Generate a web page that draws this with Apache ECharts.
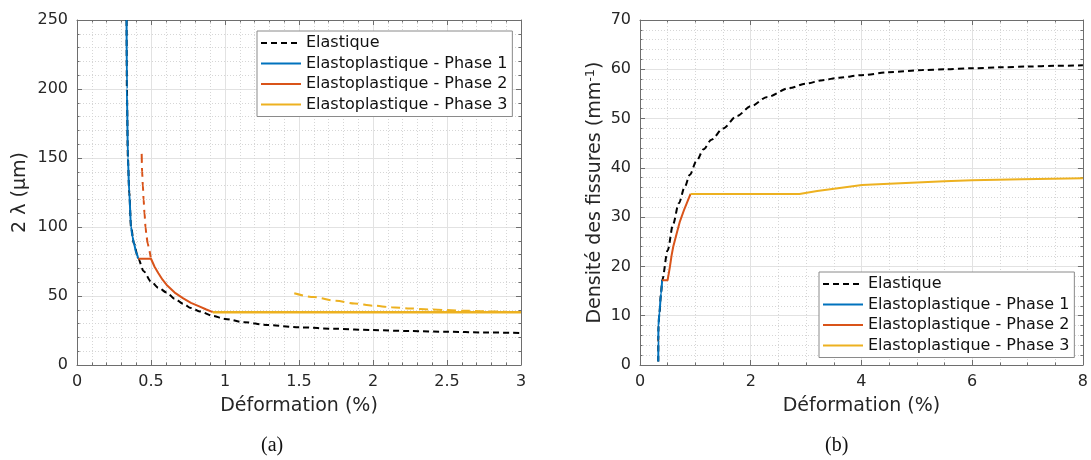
<!DOCTYPE html>
<html>
<head>
<meta charset="utf-8">
<script src="https://cdn.jsdelivr.net/npm/echarts@6/dist/echarts.min.js"></script>
<style>
html,body{margin:0;padding:0;background:#fff;}
#chart{width:1091px;height:460px;}
</style>
</head>
<body>
<div id="chart"></div>
<script>
// ---------- Data ----------
// Chart (a): 2λ (µm) vs Déformation (%)
const xTicksA = [0, 0.5, 1, 1.5, 2, 2.5, 3];
const yTicksA = [0, 50, 100, 150, 200, 250];
const elasticA = [[0.335,250],[0.337,200],[0.344,150],[0.353,125],[0.365,100],[0.385,88],[0.414,77],
  [0.45,68],[0.5,60.5],[0.55,56],[0.606,52.5],[0.66,48],[0.718,44.3],[0.77,41.3],[0.83,38.8],[0.917,35.6],
  [1.0,33.4],[1.13,31],[1.28,29],[1.5,27.3],[1.75,26.2],[2.0,25.3],[2.25,24.6],[2.5,24.1],[2.75,23.6],[3.0,23.2]];
const phase1A = [[0.335,250],[0.337,200],[0.344,150],[0.353,125],[0.365,100],[0.375,93],[0.385,88],[0.40,81.5],[0.414,77]];
const phase2A = [[0.414,77],[0.50,77],[0.525,71],[0.55,66.5],[0.578,61.8],[0.606,58],[0.66,52.5],[0.718,48.3],
  [0.77,45],[0.83,42.3],[0.87,40.4],[0.917,38.3]];
const phase2DashA = [[0.437,153],[0.44,140],[0.445,130],[0.45,120],[0.456,110],[0.463,100],[0.47,93],[0.478,88],[0.488,83],[0.498,78]];
const phase3A = [[0.917,38.3],[3.0,38.3]];
const phase3DashA = [[1.468,52],[1.6,49.2],[1.75,46.5],[1.875,44.6],[2.0,43],[2.125,41.9],[2.25,41],[2.375,40.3],[2.5,39.8],[2.625,39.3],[2.75,38.9],[2.9,38.5]];

// Chart (b): Densité des fissures (mm-1) vs Déformation (%)
const xTicksB = [0, 2, 4, 6, 8];
const yTicksB = [0, 10, 20, 30, 40, 50, 60, 70];
const elasticB = [[0.33,0.7],[0.331,5],[0.333,8],[0.35,10.5],[0.38,14.5],[0.40,17.2],[0.5,23.3],[0.6,28.7],
  [0.7,32.8],[0.81,36.2],[0.9,38.6],[1.02,41.4],[1.15,43.8],[1.29,45.7],[1.5,48],[1.75,50.5],[2.0,52.5],
  [2.3,54.4],[2.7,56.2],[3.0,57.1],[3.3,57.8],[3.6,58.3],[4.0,58.8],[4.5,59.4],[5.1,59.85],[5.5,60.0],
  [6.0,60.2],[6.5,60.4],[7.0,60.55],[7.5,60.7],[8.0,60.8]];
const phase1B = [[0.33,0.7],[0.331,5],[0.333,8],[0.35,10.5],[0.38,14.5],[0.40,17.2]];
const phase2B = [[0.40,17.2],[0.498,17.2],[0.52,18.6],[0.54,19.9],[0.57,22.2],[0.6,24],[0.66,26.6],[0.72,29.1],[0.8,31.6],[0.913,34.7]];
const phase3B = [[0.913,34.7],[2.88,34.7],[3.2,35.3],[3.54,35.8],[4.01,36.5],[4.5,36.8],[5.1,37.1],[5.5,37.3],[6.0,37.5],[6.9,37.7],[8.0,37.9]];

const legendNames = ['Elastique','Elastoplastique - Phase 1','Elastoplastique - Phase 2','Elastoplastique - Phase 3'];

// ---------- Styles ----------
const FONT = 'DejaVu Sans';
const TXT = '#262626';
const FRAME = '#6e6e6e';
const BLUE = '#0072BD', ORANGE = '#D95319', YELLOW = '#EDB120';

function mainX(gi, ticks, minorSplit, name) {
  return {
    type: 'value', gridIndex: gi, position: 'bottom',
    min: ticks[0], max: ticks[ticks.length-1], interval: ticks[1]-ticks[0],
    name: name, nameLocation: 'middle', nameGap: 32,
    nameTextStyle: {fontFamily: FONT, fontSize: 19, color: TXT},
    axisLine: {show: true, onZero: false, lineStyle: {color: FRAME, width: 1}},
    axisTick: {show: true, inside: true, length: 5, lineStyle: {color: FRAME}},
    minorTick: {show: true, splitNumber: minorSplit, length: 2.5, lineStyle: {color: FRAME}},
    axisLabel: {fontFamily: FONT, fontSize: 16, color: TXT, margin: 9},
    splitLine: {show: true, lineStyle: {color: '#e2e2e2', width: 1}},
    minorSplitLine: {show: true, lineStyle: {color: '#d6d6d6', width: 1, type: [1,2]}}
  };
}
function boxX(gi, ticks, minorSplit) {
  return {
    type: 'value', gridIndex: gi, position: 'top',
    min: ticks[0], max: ticks[ticks.length-1], interval: ticks[1]-ticks[0],
    axisLine: {show: true, onZero: false, lineStyle: {color: FRAME, width: 1}},
    axisTick: {show: true, inside: true, length: 5, lineStyle: {color: FRAME}},
    minorTick: {show: true, splitNumber: minorSplit, length: 2.5, lineStyle: {color: FRAME}},
    axisLabel: {show: false}, splitLine: {show: false}
  };
}
function mainY(gi, ticks, minorSplit, name, gap, rich) {
  return {
    type: 'value', gridIndex: gi, position: 'left',
    min: ticks[0], max: ticks[ticks.length-1], interval: ticks[1]-ticks[0],
    name: name, nameLocation: 'middle', nameGap: gap,
    nameTextStyle: Object.assign({fontFamily: FONT, fontSize: 19, color: TXT}, rich ? {rich: rich} : {}),
    axisLine: {show: true, onZero: false, lineStyle: {color: FRAME, width: 1}},
    axisTick: {show: true, inside: true, length: 5, lineStyle: {color: FRAME}},
    minorTick: {show: true, splitNumber: minorSplit, length: 2.5, lineStyle: {color: FRAME}},
    axisLabel: {fontFamily: FONT, fontSize: 16, color: TXT, margin: 9},
    splitLine: {show: true, lineStyle: {color: '#e2e2e2', width: 1}},
    minorSplitLine: {show: true, lineStyle: {color: '#d6d6d6', width: 1, type: [1,2]}}
  };
}
function boxY(gi, ticks, minorSplit) {
  return {
    type: 'value', gridIndex: gi, position: 'right',
    min: ticks[0], max: ticks[ticks.length-1], interval: ticks[1]-ticks[0],
    axisLine: {show: true, onZero: false, lineStyle: {color: FRAME, width: 1}},
    axisTick: {show: true, inside: true, length: 5, lineStyle: {color: FRAME}},
    minorTick: {show: true, splitNumber: minorSplit, length: 2.5, lineStyle: {color: FRAME}},
    axisLabel: {show: false}, splitLine: {show: false}
  };
}
function line(name, data, xi, yi, color, dash, width, z, smooth) {
  return {
    type: 'line', name: name, data: data, xAxisIndex: xi, yAxisIndex: yi,
    symbol: 'none', showSymbol: false, clip: true, z: z || 2,
    smooth: smooth || false, smoothMonotone: 'x',
    lineStyle: {color: color, width: width || 2, type: dash || 'solid'},
    itemStyle: {color: color},
    emphasis: {disabled: true}
  };
}
function legend(left, top) {
  return {
    data: legendNames, orient: 'vertical', left: left, top: top,
    itemWidth: 40, itemHeight: 14, itemGap: 4.5,
    padding: [4, 5, 4, 3],
    backgroundColor: '#fff', borderColor: '#8a8a8a', borderWidth: 1,
    itemStyle: {opacity: 0, borderWidth: 0},
    textStyle: {fontFamily: FONT, fontSize: 16, color: '#111', lineHeight: 16},
    selectedMode: false
  };
}

const option = {
  animation: false,
  backgroundColor: '#fff',
  grid: [
    {left: 77, top: 20, width: 444, height: 345, containLabel: false},
    {left: 640, top: 20, width: 444, height: 345, containLabel: false}
  ],
  xAxis: [
    mainX(0, xTicksA, 5, 'Déformation (%)'),
    boxX(0, xTicksA, 5),
    mainX(1, xTicksB, 4, 'Déformation (%)'),
    boxX(1, xTicksB, 4)
  ],
  yAxis: [
    mainY(0, yTicksA, 5, '2 λ (µm)', 47),
    boxY(0, yTicksA, 5),
    mainY(1, yTicksB, 5, 'Densité des fissures (mm{sup|-1})', 34,
      {sup: {fontFamily: FONT, fontSize: 13, color: TXT, verticalAlign: 'top', padding: [0,0,9,0]}}),
    boxY(1, yTicksB, 5)
  ],
  legend: [legend(257, 31), legend(819, 272)],
  series: [
    line('Elastique', elasticA, 0, 0, '#000', [6,4], 2, 2, 0.3),
    line('Elastoplastique - Phase 1', phase1A, 0, 0, BLUE, 'solid', 2, 3, 0.3),
    line('Elastoplastique - Phase 2', phase2A, 0, 0, ORANGE, 'solid', 2, 3),
    line('Phase 2 (prolongement)', phase2DashA, 0, 0, ORANGE, [9,5], 2, 3, 0.3),
    line('Elastoplastique - Phase 3', phase3A, 0, 0, YELLOW, 'solid', 2.5, 3),
    line('Phase 3 (prolongement)', phase3DashA, 0, 0, YELLOW, [9,5], 2, 3, 0.3),

    line('Elastique', elasticB, 2, 2, '#000', [6,4], 2, 2, 0.3),
    line('Elastoplastique - Phase 1', phase1B, 2, 2, BLUE, 'solid', 2, 3, 0.3),
    line('Elastoplastique - Phase 2', phase2B, 2, 2, ORANGE, 'solid', 2, 3),
    line('Elastoplastique - Phase 3', phase3B, 2, 2, YELLOW, 'solid', 2, 3)
  ],
  graphic: [
    {type: 'text', left: 273 - 12, top: 436, style: {text: '(a)', font: '20px "Liberation Serif"', fill: '#111'}},
    {type: 'text', left: 837 - 12, top: 436, style: {text: '(b)', font: '20px "Liberation Serif"', fill: '#111'}}
  ]
};

const chart = echarts.init(document.getElementById('chart'), null, {renderer: 'canvas'});
chart.setOption(option);
</script>
</body>
</html>
